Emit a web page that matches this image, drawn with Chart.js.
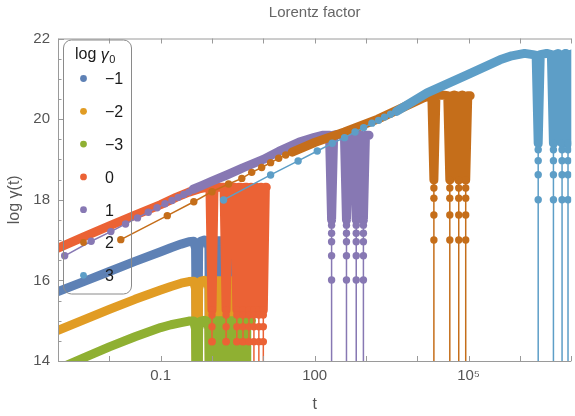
<!DOCTYPE html>
<html><head><meta charset="utf-8">
<script src="https://cdn.jsdelivr.net/npm/chart.js@4/dist/chart.umd.min.js"></script>
<style>html,body{margin:0;padding:0;background:#fff;}</style>
</head><body>
<canvas id="c" width="575" height="416"></canvas>
<script>
const FONT = "'Liberation Sans', Arial, sans-serif";

// ---- legend / series ----
const seriesLabels = ['\u22121', '\u22122', '\u22123', '0', '1', '2', '3'];
const seriesColors = ['#5E81B5', '#E19C24', '#8FB032', '#EB6235', '#8778B3', '#C56E1A', '#5D9EC7'];

// ---- axes (x values are log10 t) ----
const xDecades = [-3, -2, -1, 0, 1, 2, 3, 4, 5, 6, 7];
const xLabelLogT = [-1, 2, 5];
const xLabels = ['0.1', '100', '10\u2075'];
const yMajor = [14, 16, 18, 20, 22];
const yMinor = [14.5, 15, 15.5, 16.5, 17, 17.5, 18.5, 19, 19.5, 20.5, 21, 21.5];

// ---- series log γ0 = −1 ----
const s1BandT = [-3.0, -2.5, -2.0, -1.5, -1.0, -0.8, -0.6, -0.45, -0.36, -0.32, -0.29, -0.26, -0.22, -0.15, -0.09, -0.06, -0.04, -0.02, 0.0];
const s1BandV = [15.72, 15.97, 16.22, 16.47, 16.71, 16.81, 16.90, 16.96, 16.97, 16.8, 12.0, 16.8, 16.97, 17.0, 16.97, 16.8, 12.0, 16.8, 16.97];
const s1BlockT = [0.02, 0.46];
const s1BlockV = [16.98, 16.98];

// ---- series log γ0 = −2 ----
const s2BandT = [-3.0, -2.5, -2.0, -1.5, -1.0, -0.8, -0.6, -0.45, -0.36, -0.32, -0.29, -0.26, -0.22, -0.15, -0.09, -0.06, -0.04, -0.02, 0.0];
const s2BandV = [14.76, 15.02, 15.28, 15.53, 15.76, 15.85, 15.93, 15.97, 15.98, 15.8, 11.0, 15.8, 15.98, 16.0, 15.98, 15.8, 11.0, 15.8, 15.98];
const s2BlockT = [0.02, 0.46];
const s2BlockV = [15.99, 15.99];

// ---- series log γ0 = −3 ----
const s3BandT = [-3.0, -2.5, -2.0, -1.5, -1.0, -0.8, -0.6, -0.45, -0.36, -0.32, -0.29, -0.26, -0.22, -0.15, -0.09, -0.06, -0.04, -0.02, 0.0];
const s3BandV = [13.80, 14.08, 14.35, 14.60, 14.83, 14.90, 14.95, 14.99, 14.99, 14.8, 10.0, 14.8, 14.99, 15.01, 14.99, 14.8, 10.0, 14.8, 14.99];
const s3BlockT = [0.02, 0.77];
const s3BlockV = [15.0, 15.0];

// ---- series log γ0 = 0 ----
const s4BandT = [-3.0, -2.5, -2.0, -1.5, -1.0, -0.7, -0.45, -0.25, -0.1,
  -0.04, 0.0, 0.04, 0.235, 0.275, 0.315, 0.444, 0.484, 0.524, 0.564, 0.604, 0.644,
  0.68, 0.72, 0.76, 0.777, 0.817, 0.857, 0.873, 0.913, 0.953, 0.96, 1.0, 1.04, 1.058];
const s4BandV = [16.80, 17.08, 17.35, 17.62, 17.88, 18.06, 18.19, 18.27, 18.31,
  18.31, 15.27, 18.31, 18.31, 15.27, 18.31, 18.31, 15.27, 18.31, 18.31, 15.27, 18.31,
  18.31, 15.27, 18.31, 18.31, 15.27, 18.31, 18.31, 15.27, 18.31, 18.31, 15.27, 18.31, 18.31];
const s4DipT = [0.0, 0.275, 0.484, 0.604, 0.72, 0.817, 0.913, 1.0];
const s4DipLevels = [15.27, 15.14, 14.85, 14.48];
const s4DipEnd = [14.48, 14.48, 14.48, 14.48, 14.48, 12, 12, 12];

// ---- series log γ0 = 1 ----
const s5DotsT = [-2.870, -2.354, -1.970, -1.684, -1.452, -1.241, -1.070, -0.916, -0.780, -0.660, -0.548, -0.451, -0.368];
const s5DotsV = [16.61, 16.97, 17.21, 17.40, 17.55, 17.69, 17.80, 17.90, 17.98, 18.06, 18.13, 18.19, 18.26];
const s5BandT = [-0.368, -0.2, 0.0, 0.3, 0.6, 1.0, 1.3, 1.7, 2.0, 2.15, 2.29, 2.33, 2.37, 2.45, 2.58, 2.62, 2.66,
  2.72, 2.77, 2.81, 2.85, 2.88, 2.91, 2.95, 2.99, 3.06];
const s5BandV = [18.26, 18.35, 18.46, 18.62, 18.79, 19.0, 19.2, 19.43, 19.55, 19.6, 19.6, 17.5, 19.6, 19.62, 19.6, 17.5, 19.6,
  19.62, 19.6, 17.5, 19.6, 19.62, 19.6, 17.5, 19.6, 19.6];
const s5DipT = [2.33, 2.62, 2.81, 2.95];
const s5DipLevels = [17.5, 17.37, 17.17, 16.96, 16.61, 16.01];
const s5DipEnd = [12, 12, 12, 12];

// ---- series log γ0 = 2 ----
const s6DotsT = [-1.777, -0.871, -0.354, 0.0, 0.323, 0.581, 0.774, 0.968, 1.142, 1.30, 1.436, 1.562];
const s6DotsV = [17.01, 17.605, 17.95, 18.20, 18.39, 18.53, 18.68, 18.80, 18.92, 19.03, 19.11, 19.18];
const s6BandT = [1.562, 2.0, 2.58, 3.23, 3.87, 4.13, 4.24, 4.283, 4.323, 4.363, 4.48, 4.593, 4.633, 4.673,
  4.72, 4.767, 4.807, 4.847, 4.875, 4.903, 4.943, 4.983, 5.03];
const s6BandV = [19.18, 19.42, 19.68, 20.0, 20.38, 20.53, 20.58, 20.58, 18.49, 20.58, 20.6, 20.58, 18.49, 20.58,
  20.6, 20.58, 18.49, 20.58, 20.6, 20.58, 18.49, 20.58, 20.58];
const s6DipT = [4.323, 4.633, 4.807, 4.943];
const s6DipLevels = [18.49, 18.29, 18.04, 17.62, 17.0];
const s6DipEnd = [12, 12, 12, 12];

// ---- series log γ0 = 3 ----
const s7DotsT = [0.226, 1.142, 1.678, 2.051, 2.342, 2.582, 2.787, 2.955, 3.116, 3.245, 3.361, 3.478, 3.594];
const s7DotsV = [17.995, 18.615, 18.963, 19.21, 19.40, 19.54, 19.68, 19.79, 19.90, 19.97, 20.05, 20.12, 20.19];
const s7BandT = [3.594, 4.19, 4.97, 5.61, 5.84, 6.09, 6.25, 6.315, 6.355, 6.395, 6.52, 6.612, 6.652, 6.692,
  6.74, 6.78, 6.82, 6.86, 6.88, 6.896, 6.936, 6.976, 7.05];
const s7BandV = [20.19, 20.65, 21.10, 21.47, 21.57, 21.63, 21.6, 21.58, 19.40, 21.6, 21.63, 21.6, 19.40, 21.6,
  21.63, 21.6, 19.40, 21.6, 21.63, 21.6, 19.40, 21.6, 21.63];
const s7DipT = [6.355, 6.652, 6.82, 6.936];
const s7DipLevels = [19.40, 19.24, 18.97, 18.62, 18.0];
const s7DipEnd = [12, 12, 12, 12];

// ---- build datasets ----
const zip = (T, V) => T.map((t, i) => ({x: t, y: V[i]}));
function dipPoints(dips, levels, ends) {
  const out = [];
  dips.forEach((d, i) => {
    levels.forEach(v => out.push({x: d, y: v}));
    out.push({x: d, y: ends[i]});
    out.push({x: d, y: null});
  });
  return out;
}
const datasets = [];
function add(ds, s, k) { ds.order = 1000 - s * 10 - k; datasets.push(ds); }
function band(T, V, s) {
  add({data: zip(T, V), borderColor: seriesColors[s], backgroundColor: seriesColors[s], borderWidth: 9,
    pointRadius: 0, borderJoinStyle: 'round', borderCapStyle: 'round', fill: false, clip: 0, spanGaps: false}, s, 0);
}
function block(T, V, s) {
  add({data: zip(T, V), borderColor: seriesColors[s], backgroundColor: seriesColors[s], borderWidth: 9,
    pointRadius: 0, borderJoinStyle: 'round', borderCapStyle: 'round', fill: {value: 10}, clip: 0}, s, 1);
}
function dotted(data, s, k) {
  add({data, borderColor: seriesColors[s], backgroundColor: seriesColors[s], borderWidth: 1.5,
    pointRadius: 3.7, pointBorderWidth: 0, pointHoverRadius: 0, fill: false, clip: 0, spanGaps: false}, s, k);
}

band(s1BandT, s1BandV, 0); block(s1BlockT, s1BlockV, 0);
band(s2BandT, s2BandV, 1); block(s2BlockT, s2BlockV, 1);
band(s3BandT, s3BandV, 2); block(s3BlockT, s3BlockV, 2);
band(s4BandT, s4BandV, 3); dotted(dipPoints(s4DipT, s4DipLevels, s4DipEnd), 3, 2);
band(s5BandT, s5BandV, 4); dotted(dipPoints(s5DipT, s5DipLevels, s5DipEnd), 4, 2); dotted(zip(s5DotsT, s5DotsV), 4, 3);
band(s6BandT, s6BandV, 5); dotted(dipPoints(s6DipT, s6DipLevels, s6DipEnd), 5, 2); dotted(zip(s6DotsT, s6DotsV), 5, 3);
band(s7BandT, s7BandV, 6); dotted(dipPoints(s7DipT, s7DipLevels, s7DipEnd), 6, 2); dotted(zip(s7DotsT, s7DotsV), 6, 3);

// ---- frame & ticks ----
const framePlugin = {
  id: 'frame',
  afterDatasetsDraw(chart) {
    const {ctx, chartArea: a, scales: {x, y}} = chart;
    ctx.save();
    ctx.strokeStyle = '#9a9a9a';
    ctx.lineWidth = 1;
    ctx.beginPath();
    ctx.moveTo(a.right, a.top + 0.5); ctx.lineTo(a.left + 0.5, a.top + 0.5);
    ctx.lineTo(a.left + 0.5, a.bottom + 0.5); ctx.lineTo(a.right, a.bottom + 0.5);
    xDecades.forEach(v => {
      const px = Math.round(x.getPixelForValue(v)) + 0.5;
      ctx.moveTo(px, a.bottom); ctx.lineTo(px, a.bottom - 5);
      ctx.moveTo(px, a.top); ctx.lineTo(px, a.top + 5);
    });
    yMajor.forEach(v => {
      const py = Math.round(y.getPixelForValue(v)) + 0.5;
      ctx.moveTo(a.left, py); ctx.lineTo(a.left + 6, py);
    });
    yMinor.forEach(v => {
      const py = Math.round(y.getPixelForValue(v)) + 0.5;
      ctx.moveTo(a.left, py); ctx.lineTo(a.left + 3.5, py);
    });
    ctx.stroke();
    ctx.restore();
  }
};

// ---- legend ----
const legendPlugin = {
  id: 'gammaLegend',
  afterDraw(chart) {
    const ctx = chart.ctx, a = chart.chartArea;
    const L = a.left + 5.5, T = a.top + 1.5, W = 68, H = 254;
    ctx.save();
    ctx.strokeStyle = '#8a8a8a'; ctx.lineWidth = 1;
    ctx.beginPath(); ctx.roundRect(L, T, W, H, 8); ctx.stroke();
    ctx.fillStyle = '#1a1a1a'; ctx.textBaseline = 'middle'; ctx.textAlign = 'left';
    let tx = L + 11.5; const ty = T + 15;
    ctx.font = '16px ' + FONT; ctx.fillText('log ', tx, ty); tx += ctx.measureText('log ').width;
    ctx.font = 'italic 16px ' + FONT; ctx.fillText('\u03b3', tx, ty + 1); tx += ctx.measureText('\u03b3').width + 0.5;
    ctx.font = '11px ' + FONT; ctx.fillText('0', tx, ty + 5);
    seriesLabels.forEach((lab, i) => {
      const yy = T + 38.5 + i * 32.8;
      ctx.fillStyle = seriesColors[i];
      ctx.beginPath(); ctx.arc(L + 20, yy, 3.4, 0, Math.PI * 2); ctx.fill();
      ctx.fillStyle = '#1a1a1a'; ctx.font = '16px ' + FONT;
      ctx.fillText(lab, L + 41.5, yy + 1.5);
    });
    ctx.restore();
  }
};

new Chart(document.getElementById('c'), {
  type: 'line',
  data: {datasets},
  options: {
    responsive: false, animation: false, devicePixelRatio: 1, events: [],
    layout: {padding: 0},
    plugins: {
      legend: {display: false}, tooltip: {enabled: false},
      title: {display: true, text: 'Lorentz factor', color: '#666', fullSize: false,
        font: {family: FONT, size: 15, weight: 'normal'}, padding: {top: 3.5, bottom: 17}}
    },
    scales: {
      x: {
        type: 'linear', min: -3, max: 7,
        grid: {display: false, drawTicks: false}, border: {display: false},
        afterBuildTicks: s => { s.ticks = xLabelLogT.map(v => ({value: v})); },
        ticks: {
          autoSkip: false, maxRotation: 0, color: '#555', padding: 6,
          font: {family: FONT, size: 15},
          callback: v => { const i = xLabelLogT.indexOf(v); return i >= 0 ? xLabels[i] : ''; }
        },
        title: {display: true, text: 't', color: '#555', font: {family: FONT, size: 16}, padding: {top: 0, bottom: 1.4}},
        afterFit: s => { s.height = 55; }
      },
      y: {
        type: 'linear', min: 14, max: 22,
        grid: {display: false, drawTicks: false}, border: {display: false},
        afterBuildTicks: s => { s.ticks = yMajor.map(v => ({value: v})); },
        ticks: {color: '#555', padding: 8, font: {family: FONT, size: 15}},
        title: {display: true, text: 'log \u03b3(t)', color: '#555', font: {family: FONT, size: 16}, padding: {top: 5.4, bottom: 0}},
        afterFit: s => { s.width = 58; }
      }
    }
  },
  plugins: [framePlugin, legendPlugin]
});
</script>
</body></html>
